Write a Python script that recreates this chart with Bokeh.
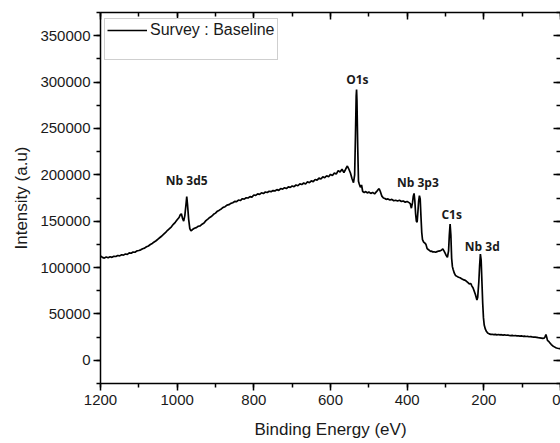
from bokeh.plotting import figure
from bokeh.models import (Range1d, LinearAxis, SingleIntervalTicker, Legend, LegendItem,
                          LabelSet, ColumnDataSource, BasicTickFormatter, CustomLabelingPolicy)
from bokeh.core.properties import value
from bokeh.embed import file_html
from bokeh.resources import INLINE

# ---- data (binding energy in eV, intensity in a.u.) ----
energy = [1200, 1195, 1190, 1185, 1180, 1175, 1170, 1165, 1160, 1155, 1150, 1145, 1140, 1135,
          1130, 1125, 1120, 1115, 1110, 1105, 1100, 1095, 1090, 1085, 1080, 1075, 1070, 1065,
          1060, 1055, 1050, 1045, 1040, 1035, 1030, 1025, 1020, 1015, 1010, 1005, 1000, 995,
          992, 989, 986, 983, 980, 977, 975, 973, 970, 967, 964, 960, 955, 950, 945, 940,
          935, 930, 925, 920, 915, 910, 905, 900, 895, 890, 885, 880, 875, 870, 865, 860,
          855, 850, 845, 840, 835, 830, 825, 820, 815, 810, 805, 800, 795, 790, 785, 780,
          775, 770, 765, 760, 755, 750, 745, 740, 735, 730, 725, 720, 715, 710, 705, 700,
          695, 690, 685, 680, 675, 670, 665, 660, 655, 650, 645, 640, 635, 630, 625, 620,
          615, 610, 605, 600, 595, 590, 585, 580, 575, 570, 565, 560, 556, 552, 548, 544,
          540, 537, 535, 533, 532, 531, 529, 527, 525, 522, 519, 516, 512, 508, 504, 500,
          495, 490, 485, 480, 476, 473, 470, 466, 462, 458, 455, 450, 445, 440, 435, 430,
          425, 420, 415, 410, 405, 400, 395, 392, 389, 386, 384, 382, 380, 378, 376, 374,
          372, 370, 368, 366, 364, 362, 360, 357, 354, 351, 348, 345, 342, 339, 336, 333,
          330, 326, 322, 318, 314, 310, 307, 304, 301, 298, 295, 292, 290, 288, 286, 284,
          282, 280, 277, 274, 270, 266, 262, 258, 254, 250, 246, 242, 238, 234, 231, 228,
          225, 222, 220, 218, 216, 213, 211, 209, 207, 205, 203, 201, 199, 196, 193, 190,
          186, 182, 178, 174, 170, 166, 162, 158, 154, 150, 146, 142, 138, 134, 130, 126,
          122, 118, 114, 110, 106, 102, 98, 94, 90, 86, 82, 78, 74, 70, 66, 62,
          58, 54, 50, 46, 43, 40, 38, 36, 34, 31, 28, 24, 20, 16, 12, 8,
          4, 0]
intensity = [112500, 111000, 110200, 111300, 110500, 111600, 111000, 112200, 111900, 113000,
             112600, 113800, 113400, 114600, 114300, 115900, 115400, 116800, 116500, 118000,
             118400, 119100, 120300, 120900, 122400, 123300, 124800, 126000, 127600, 128900,
             130700, 132400, 134000, 136100, 138000, 140200, 142100, 144000, 146600, 148800,
             151500, 154000, 156800, 158000, 153000, 150000, 156000, 168000, 176500, 168000,
             152000, 142000, 139500, 141000, 142300, 143100, 144500, 145000, 146800, 148000,
             150600, 152200, 154000, 155300, 157400, 158700, 160800, 161900, 163200, 164900,
             165600, 167300, 167800, 169200, 169900, 171300, 171000, 172800, 172300, 174200,
             173800, 175300, 175000, 176500, 176000, 178200, 177800, 179400, 178900, 180600,
             179800, 181500, 180900, 182300, 181800, 183000, 182600, 184000, 183200, 185200,
             184600, 186000, 185200, 187000, 186500, 188000, 187200, 189000, 188200, 190200,
             189500, 191200, 190100, 192500, 191500, 193500, 192700, 195000, 194200, 196500,
             195500, 197800, 196900, 199000, 198000, 200500, 199200, 202000, 200800, 204500,
             203000, 206000, 202500, 206500, 209500, 206000, 202000, 196000, 191500, 200000,
             240000, 285000, 292000, 280000, 230000, 193000, 190000, 186500, 189000, 182000,
             181000, 182000, 180500, 181500, 180000, 181000, 179500, 181800, 184000, 185000,
             182000, 177000, 175000, 174500, 173500, 174000, 172800, 173500, 172000, 172600,
             171800, 172500, 171300, 171800, 170500, 171200, 170000, 169000, 164000, 170000,
             177000, 180000, 172000, 158000, 150000, 149000, 160000, 172000, 177500, 174000,
             155000, 138000, 130000, 127500, 126500, 125000, 120500, 119500, 118500, 117500,
             117800, 116800, 117000, 116500, 117200, 117800, 118000, 119000, 120000, 118000,
             115500, 113000, 111000, 118000, 135000, 147000, 135000, 110000, 101000, 98000,
             94000, 91500, 90500, 89500, 89000, 88000, 87000, 86500, 85500, 84000,
             82500, 82800, 80000, 78000, 74500, 71000, 68000, 65000, 68000, 85000,
             102000, 114500, 108000, 85000, 62000, 46000, 38000, 33500, 31000, 29500,
             28500, 28000, 28100, 27700, 27900, 27500, 27800, 27400, 27600, 27200,
             27500, 27000, 27300, 26900, 26700, 26900, 26500, 26700, 26300, 26500,
             26100, 26300, 25900, 26000, 25700, 25800, 25400, 25600, 25200, 25000,
             24900, 24700, 24400, 24200, 24000, 23600, 23800, 25500, 27800, 25000,
             21500, 20500, 19000, 17000, 15500, 14500, 13500, 13000, 12700, 12500]

series_name = "Survey : Baseline"
peak_names = ["Nb 3d5", "O1s", "Nb 3p3", "C1s", "Nb 3d"]
peak_energy = [975, 530, 372, 284, 204]
peak_label_level = [185000, 293500, 182500, 148500, 114000]

x_label = "Binding Energy (eV)"
y_label = "Intensity (a.u)"

TICK_FONT = "Liberation Sans"

p = figure(width=560, height=443, x_range=Range1d(1200, 0), y_range=Range1d(-25000, 375000),
           output_backend="svg", toolbar_location=None,
           min_border_left=100, min_border_right=0, min_border_top=12, min_border_bottom=60)
p.outline_line_color = None
p.xgrid.visible = False
p.ygrid.visible = False
p.background_fill_color = "white"
p.border_fill_color = "white"

line_r = p.line(energy, intensity, line_color="black", line_width=1.7)
blank_r = p.line(x=[], y=[], line_alpha=0)

def style_axis(ax):
    ax.axis_line_color = "black"
    ax.axis_line_width = 1.5
    ax.major_tick_line_color = "black"
    ax.major_tick_line_width = 1.5
    ax.minor_tick_line_color = "black"
    ax.minor_tick_line_width = 1.5

xa = p.xaxis[0]
xa.ticker = SingleIntervalTicker(interval=200, num_minor_ticks=2)
ya = p.yaxis[0]
ya.ticker = SingleIntervalTicker(interval=50000, num_minor_ticks=2)
ya.formatter = BasicTickFormatter(use_scientific=False)
for ax in (xa, ya):
    style_axis(ax)
    ax.major_tick_out = 7
    ax.major_tick_in = 0
    ax.minor_tick_out = 4
    ax.minor_tick_in = 0
    ax.major_label_text_font = TICK_FONT
    ax.major_label_text_font_size = "15px"
    ax.major_label_text_color = "#1a1a1a"
    ax.axis_label_text_font = TICK_FONT
    ax.axis_label_text_font_size = "17px"
    ax.axis_label_text_font_style = "normal"
    ax.axis_label_text_color = "#1a1a1a"
xa.axis_label = x_label
ya.axis_label = y_label
xa.major_label_standoff = 4
xa.axis_label_standoff = 12
ya.major_label_standoff = 3
ya.axis_label_standoff = 6

no_labels = "return new Set()"
top = LinearAxis(ticker=SingleIntervalTicker(interval=200, num_minor_ticks=2),
                 major_tick_in=7, major_tick_out=0, minor_tick_in=4, minor_tick_out=0,
                 major_label_policy=CustomLabelingPolicy(code=no_labels),
                 major_label_text_font_size="0px", major_label_standoff=0)
style_axis(top)
right = LinearAxis(ticker=SingleIntervalTicker(interval=50000, num_minor_ticks=2),
                   major_tick_in=7, major_tick_out=0, minor_tick_in=4, minor_tick_out=0,
                   major_label_policy=CustomLabelingPolicy(code=no_labels),
                   major_label_text_font_size="0px", major_label_standoff=0)
style_axis(right)
right.axis_line_color = None
p.add_layout(top, "above")
p.add_layout(right, "right")

legend = Legend(items=[LegendItem(label=series_name, renderers=[line_r]),
                       LegendItem(label=" ", renderers=[blank_r])],
                location=(4, 323), padding=2, spacing=0, margin=0,
                glyph_width=40, glyph_height=18, label_height=18, label_standoff=3,
                label_text_font=TICK_FONT, label_text_font_size="16px",
                label_text_color="#1a1a1a",
                border_line_color="#a0a0a0", border_line_width=1,
                background_fill_color="white", background_fill_alpha=1)
p.add_layout(legend, "center")

src = ColumnDataSource(dict(x=peak_energy, y=peak_label_level, text=peak_names))
labels = LabelSet(x="x", y="y", text="text", source=src, text_align="center",
                  text_baseline="bottom", text_font=value("Open Sans"),
                  text_font_style="bold", text_font_size="12px", text_color="#1a1a1a")
p.add_layout(labels)

open("out.html", "w").write(file_html(p, INLINE))
